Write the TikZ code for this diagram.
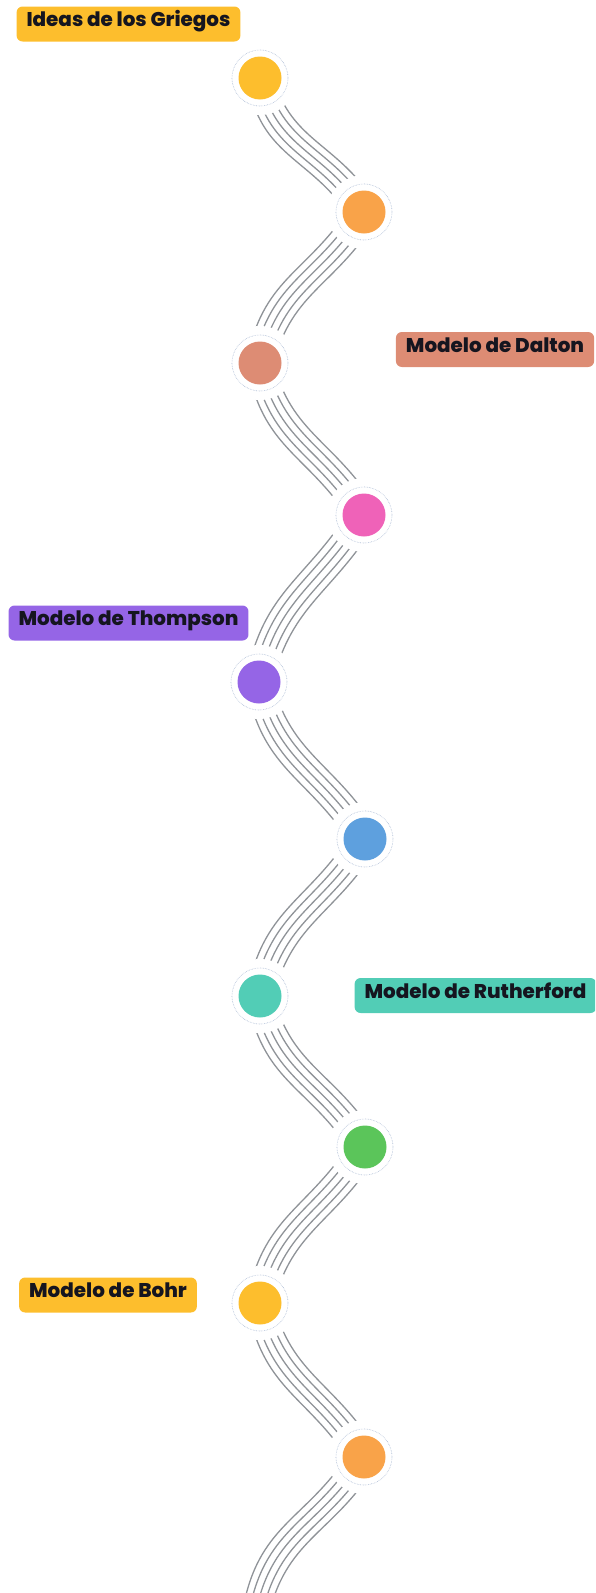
\documentclass[tikz,border=0pt]{standalone}
\usepackage{fontspec}
\setmainfont{Poppins}[BoldFont=* ExtraBold]
\usetikzlibrary{calc,backgrounds}

\definecolor{cyel}{HTML}{FDBE2D}
\definecolor{cora}{HTML}{F9A349}
\definecolor{csal}{HTML}{DD8C74}
\definecolor{cpin}{HTML}{EF62B8}
\definecolor{cpur}{HTML}{9565E6}
\definecolor{cblu}{HTML}{5EA0DE}
\definecolor{ctea}{HTML}{52CDB6}
\definecolor{cgre}{HTML}{5BC55A}
\definecolor{inkdark}{HTML}{15151F}
\definecolor{wavegray}{HTML}{8F9398}
\definecolor{halogray}{HTML}{A8B9D3}

\tikzset{
  station/.style={circle,fill=#1,minimum size=43pt,inner sep=0pt},
  halo/.style={draw=halogray,densely dotted,line width=0.6pt},
  tagbox/.style={rounded corners=6pt,fill=#1,text=inkdark,inner xsep=10pt,inner ysep=0pt,
    minimum height=35pt,text height=0.75em,text depth=0.25em,
    font=\bfseries\fontsize{19.9}{24}\selectfont},
  wave/.style={draw=wavegray,line width=1.3pt,line cap=round,looseness=1.12}
}

% five waves, left circle down to right circle
\newcommand\waveright[2]{%
  \foreach \k in {-2,...,2}
    \draw[wave] ($(#1)+(5.67*\k,4.43*\k)$) to[out=-78,in=122] ($(#2)+(5.67*\k,4.43*\k)$);
}
% five waves, right circle down to left circle
\newcommand\waveleft[2]{%
  \foreach \k in {-2,...,2}
    \draw[wave] ($(#1)+(5.93*\k,-4.09*\k)$) to[out=-122,in=78] ($(#2)+(5.93*\k,-4.09*\k)$);
}

\begin{document}
\begin{tikzpicture}[x=1pt,y=1pt]
\useasboundingbox (0,0) rectangle (595,-1593);
\clip (0,0) rectangle (595,-1593);

% circles
\node[station=cyel] (c1) at (260,-78) {};
\node[station=cora] (c2) at (364,-212) {};
\node[station=csal] (c3) at (260,-363) {};
\node[station=cpin] (c4) at (364,-515) {};
\node[station=cpur] (c5) at (259,-682) {};
\node[station=cblu] (c6) at (365,-839) {};
\node[station=ctea] (c7) at (260,-996) {};
\node[station=cgre] (c8) at (365,-1147) {};
\node[station=cyel] (c9) at (260,-1303) {};
\node[station=cora] (c10) at (364,-1457) {};
\coordinate (c11) at (256,-1611);

\foreach \c in {c1,c2,c3,c4,c5,c6,c7,c8,c9,c10}
  \draw[halo] (\c.center) circle (28);

% waves, cut back round each circle
\begin{scope}[on background layer]
\clip (0,0) rectangle (595,-1593);
\waveright{c1}{c2}
\waveleft{c2}{c3}
\waveright{c3}{c4}
\waveleft{c4}{c5}
\waveright{c5}{c6}
\waveleft{c6}{c7}
\waveright{c7}{c8}
\waveleft{c8}{c9}
\waveright{c9}{c10}
\waveleft{c10}{c11}
\foreach \c in {c1,c2,c3,c4,c5,c6,c7,c8,c9,c10}
  \fill[white] (\c.center) circle (37);
\end{scope}

% labels
\node[tagbox=cyel] (griegos) at (128.5,-24) {Ideas de los Griegos};
\node[tagbox=csal] (dalton) at (495,-349.5) {Modelo de Dalton};
\node[tagbox=cpur] (thompson) at (128.5,-623) {Modelo de Thompson};
\node[tagbox=ctea] (rutherford) at (475.5,-995.5) {Modelo de Rutherford};
\node[tagbox=cyel] (bohr) at (108,-1295) {Modelo de Bohr};
\end{tikzpicture}
\end{document}
